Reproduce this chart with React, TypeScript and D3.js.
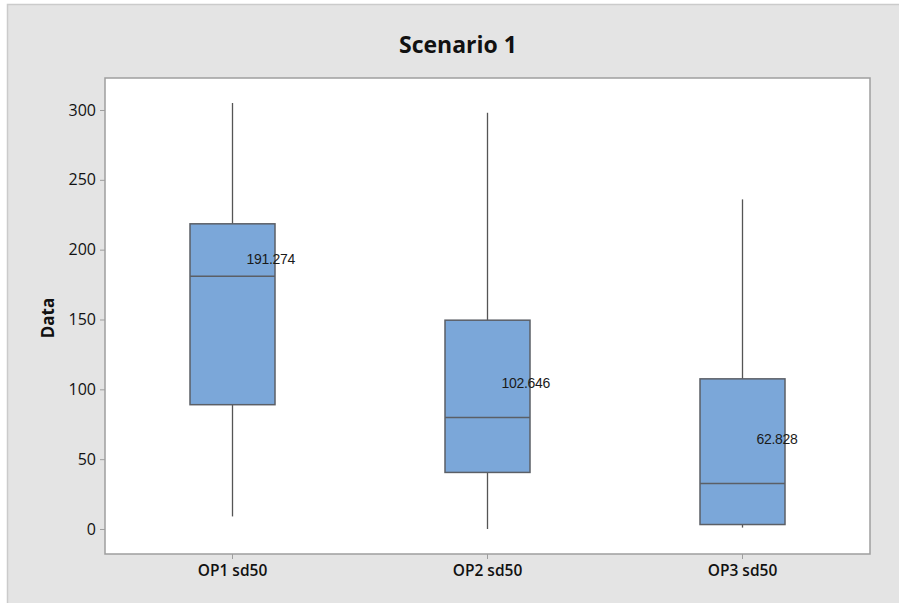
import React, { useEffect, useRef } from 'react';
import * as d3 from 'd3';

const categories = ['OP1 sd50', 'OP2 sd50', 'OP3 sd50'];
const whiskerLow = [9, 0, 1];
const q1 = [89, 40.5, 3.2];
const median = [181, 79.8, 32.6];
const q3 = [218.5, 149.5, 107.5];
const whiskerHigh = [305, 298, 236];
const means = [191.274, 102.646, 62.828];
const yTicks = [0, 50, 100, 150, 200, 250, 300];

const W = 899;
const H = 603;

export default function App() {
  const ref = useRef<SVGSVGElement | null>(null);

  useEffect(() => {
    document.body.style.margin = '0';
    const svg = d3.select(ref.current);
    svg.selectAll('*').remove();

    const margin = { top: 78, right: 29, bottom: 49, left: 105 };
    const width = W - margin.left - margin.right;
    const height = H - margin.top - margin.bottom;

    // outer frame
    svg.append('rect').attr('width', W).attr('height', H).attr('fill', '#fff');
    svg.append('rect')
      .attr('x', 7.5).attr('y', 4.5)
      .attr('width', W + 10).attr('height', H + 10)
      .attr('fill', '#e4e4e4')
      .attr('stroke', '#cbcbcb')
      .attr('stroke-width', 1.5);

    svg.append('text')
      .attr('x', 458).attr('y', 53)
      .attr('text-anchor', 'middle')
      .attr('font-family', '"Open Sans", sans-serif')
      .attr('font-weight', 700)
      .attr('font-size', 23)
      .attr('fill', '#111')
      .text('Scenario 1');

    const g = svg.append('g').attr('transform', `translate(${margin.left},${margin.top})`);

    const x = d3.scaleBand().domain(categories).range([0, width]).padding(0);
    const y = d3.scaleLinear().domain([-17.9, 322.9]).range([height, 0]);

    g.append('rect')
      .attr('width', width).attr('height', height)
      .attr('fill', '#fff')
      .attr('stroke', '#9e9e9e')
      .attr('stroke-width', 1.5);

    // y axis
    const yAxis = g.append('g')
      .call(d3.axisLeft(y).tickValues(yTicks).tickSize(5).tickPadding(4));
    yAxis.select('.domain').remove();
    yAxis.selectAll('line').attr('stroke', '#9e9e9e');
    yAxis.selectAll('text')
      .attr('font-family', '"Open Sans", sans-serif')
      .attr('font-size', 16)
      .attr('font-weight', 500)
      .attr('fill', '#111');

    // x axis
    const xAxis = g.append('g')
      .attr('transform', `translate(0,${height})`)
      .call(d3.axisBottom(x).tickSize(5).tickPadding(6));
    xAxis.select('.domain').remove();
    xAxis.selectAll('line').attr('stroke', '#9e9e9e');
    xAxis.selectAll('text')
      .attr('font-family', '"Open Sans", sans-serif')
      .attr('font-size', 15.5)
      .attr('font-weight', 600)
      .attr('fill', '#111');

    svg.append('text')
      .attr('transform', `translate(54,${318}) rotate(-90)`)
      .attr('text-anchor', 'middle')
      .attr('font-family', '"Open Sans", sans-serif')
      .attr('font-weight', 700)
      .attr('font-size', 17)
      .attr('fill', '#111')
      .text('Data');

    const boxW = x.bandwidth() / 3;
    const boxes = g.selectAll('.box')
      .data(categories)
      .enter().append('g')
      .attr('class', 'box')
      .attr('transform', (d) => `translate(${(x(d) || 0) + x.bandwidth() / 2},0)`);

    // whiskers
    boxes.append('line')
      .attr('y1', (d, i) => y(whiskerHigh[i])).attr('y2', (d, i) => y(q3[i]))
      .attr('stroke', '#555').attr('stroke-width', 1.3);
    boxes.append('line')
      .attr('y1', (d, i) => y(q1[i])).attr('y2', (d, i) => y(whiskerLow[i]))
      .attr('stroke', '#555').attr('stroke-width', 1.3);

    boxes.append('rect')
      .attr('x', -boxW / 2)
      .attr('width', boxW)
      .attr('y', (d, i) => y(q3[i]))
      .attr('height', (d, i) => y(q1[i]) - y(q3[i]))
      .attr('fill', '#7ba7d9')
      .attr('stroke', '#5b5f66')
      .attr('stroke-width', 1.5);

    boxes.append('line')
      .attr('x1', -boxW / 2).attr('x2', boxW / 2)
      .attr('y1', (d, i) => y(median[i])).attr('y2', (d, i) => y(median[i]))
      .attr('stroke', '#5b5f66').attr('stroke-width', 1.5);

    // mean labels
    boxes.append('text')
      .attr('x', 14)
      .attr('y', (d, i) => y(means[i]) + 2.5)
      .attr('font-family', '"Liberation Sans", Arial, sans-serif')
      .attr('font-size', 14)
      .attr('letter-spacing', -0.3)
      .attr('fill', '#1a1a1a')
      .text((d, i) => means[i].toFixed(3));
  }, []);

  return <svg ref={ref} width={W} height={H} style={{ display: 'block' }} />;
}
